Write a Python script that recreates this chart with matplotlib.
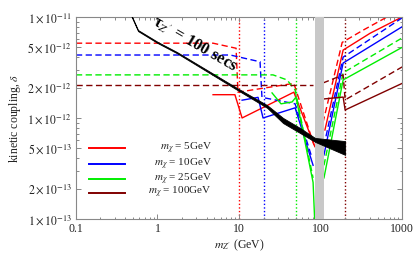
import numpy as np
import matplotlib
matplotlib.use("Agg")
import matplotlib.pyplot as plt
from matplotlib.ticker import FixedLocator, NullFormatter

plt.rcParams.update({
    "font.family": "Liberation Serif",
    "mathtext.fontset": "stix",
    "font.size": 8,
})

# ---- data ----
# m_chi = 5 GeV (red)
red_dash_l_x = [0.1, 4.8, 9.2, 9.7, 47, 83]
red_dash_l_y = [5.5e-12, 5.5e-12, 4.9e-12, 1.8e-12, 2.2e-12, 5.4e-13]
red_dash_r_x = [107, 184, 332, 654, 1000]
red_dash_r_y = [9.0e-13, 5.6e-12, 7.4e-12, 1.0e-11, 1.2e-11]
red_sol_l_x = [4.8, 8.9, 10.9, 47, 85]
red_sol_l_y = [1.7e-12, 1.7e-12, 1.0e-12, 1.8e-12, 5.2e-13]
red_sol_r_x = [113, 189, 405, 1000]
red_sol_r_y = [7.6e-13, 4.7e-12, 6.9e-12, 1.0e-11]

# m_chi = 10 GeV (blue)
blue_dash_l_x = [0.1, 7.8, 18.1, 19.1, 48.7, 78.7]
blue_dash_l_y = [4.2e-12, 4.2e-12, 3.6e-12, 1.6e-12, 1.38e-12, 4.0e-13]
blue_dash_r_x = [110, 189, 1000]
blue_dash_r_y = [5.3e-13, 4.0e-12, 9.8e-12]
blue_sol_l_x = [10.9, 17.1, 19.7, 48.7, 80.9]
blue_sol_l_y = [1.5e-12, 1.6e-12, 1.0e-12, 1.26e-12, 3.4e-13]
blue_sol_r_x = [110, 189, 1000]
blue_sol_r_y = [4.3e-13, 3.5e-12, 8.0e-12]

# m_chi = 25 GeV (green)
green_dash_l_x = [0.1, 26.1, 38.8, 48.7, 80.9]
green_dash_l_y = [2.67e-12, 2.67e-12, 2.38e-12, 1.89e-12, 2.55e-13]
green_dash_r_x = [110, 189, 1000]
green_dash_r_y = [3.4e-13, 2.8e-12, 6.2e-12]
green_sol_l_x = [25.4, 32.7, 44.7, 50, 80.9, 85.6]
green_sol_l_y = [1.77e-12, 1.38e-12, 1.44e-12, 1.61e-12, 2.3e-13, 7.8e-14]
green_sol_r_x = [110, 189, 1000]
green_sol_r_y = [2.55e-13, 2.38e-12, 5.0e-12]

# m_chi = 100 GeV (dark red)
dred_dash_l_x = [0.1, 80.9]
dred_dash_l_y = [2.12e-12, 2.12e-12]
dred_dash_r_x = [107, 189, 200, 1000]
dred_dash_r_y = [2.22e-12, 2.67e-12, 1.51e-12, 3.2e-12]
dred_sol_r_x = [107, 189, 200, 1000]
dred_sol_r_y = [1.54e-12, 1.61e-12, 1.2e-12, 2.2e-12]

# tau_Z' = 100 s band
tau_x = [0.46, 0.577, 1.01, 1.73, 9.45, 22.1, 34.7, 56, 85.6, 200]
tau_hi = [1.12e-11, 7.43e-12, 5.65e-12, 4.5e-12, 1.98e-12, 1.34e-12, 1.0e-12, 7.96e-13, 6.34e-13, 5.9e-13]
tau_lo = [1.09e-11, 7.25e-12, 5.5e-12, 4.38e-12, 1.9e-12, 1.26e-12, 8.9e-13, 7.1e-13, 5.8e-13, 4.31e-13]

two_mchi = [10, 20, 50, 200]
zband = (86, 110)

colors = ["#ff0000", "#0000ff", "#00ee00", "#800000"]
labels = [r"$m_\chi$ = 5GeV", r"$m_\chi$ = 10GeV", r"$m_\chi$ = 25GeV", r"$m_\chi$ = 100GeV"]

fig = plt.figure(figsize=(4.15, 2.57), dpi=100)
ax = fig.add_axes([0.183, 0.148, 0.786, 0.786])
ax.set_xscale("log")
ax.set_yscale("log")
ax.set_xlim(0.1, 1000)
ax.set_ylim(1e-13, 1e-11)

dash = dict(lw=1.0, dashes=(4.5, 2.5))
sol = dict(lw=1.0)

# vertical 2 m_chi lines
for xv, c in zip(two_mchi, colors):
    ax.axvline(xv, color=c, lw=1.0, ls=(0, (1, 1.6)), zorder=1)

series = [
    (red_dash_l_x, red_dash_l_y, red_dash_r_x, red_dash_r_y,
     red_sol_l_x, red_sol_l_y, red_sol_r_x, red_sol_r_y),
    (blue_dash_l_x, blue_dash_l_y, blue_dash_r_x, blue_dash_r_y,
     blue_sol_l_x, blue_sol_l_y, blue_sol_r_x, blue_sol_r_y),
    (green_dash_l_x, green_dash_l_y, green_dash_r_x, green_dash_r_y,
     green_sol_l_x, green_sol_l_y, green_sol_r_x, green_sol_r_y),
]
for c, s in zip(colors, series):
    dlx, dly, drx, dry, slx, sly, srx, sry = s
    ax.plot(dlx, dly, color=c, zorder=2, **dash)
    ax.plot(drx, dry, color=c, zorder=2, **dash)
    ax.plot(slx, sly, color=c, zorder=2, **sol)
    ax.plot(srx, sry, color=c, zorder=2, **sol)

ax.plot(dred_dash_l_x, dred_dash_l_y, color=colors[3], zorder=2, **dash)
ax.plot(dred_dash_r_x, dred_dash_r_y, color=colors[3], zorder=2, **dash)
ax.plot(dred_sol_r_x, dred_sol_r_y, color=colors[3], zorder=2, **sol)

# Z pole band
ax.axvspan(*zband, color="#c8c8c8", lw=0, zorder=3)

# lifetime band
ax.fill_between(tau_x, tau_lo, tau_hi, color="black", lw=0.6, edgecolor="black", zorder=4)
ax.text(2.85, 5.3e-12, "τ$_{Z'}$ = 100 secs", rotation=-30, ha="center", va="center",
        fontsize=12, fontweight="bold", zorder=5)

# legend drawn Mathematica-style
leg_y = [0.351, 0.272, 0.198, 0.129]
for c, lab, yy in zip(colors, labels, leg_y):
    ax.plot([0.040, 0.150], [yy, yy], color=c, lw=1.4, transform=ax.transAxes, zorder=6)
    ax.text(0.417, yy, lab, ha="right", va="center", fontsize=8,
            transform=ax.transAxes, color="#222222", zorder=6)

# ticks
frame = "#888888"
for sp in ax.spines.values():
    sp.set_color(frame)
    sp.set_linewidth(0.8)

ax.xaxis.set_major_locator(FixedLocator([0.1, 1, 10, 100, 1000]))
ax.set_xticklabels(["0.1", "1", "10", "100", "1000"])
xminor = [m * 10.0 ** e for e in range(-1, 3) for m in range(2, 10)]
ax.xaxis.set_minor_locator(FixedLocator(xminor))
ax.xaxis.set_minor_formatter(NullFormatter())

ymaj = [1e-13, 2e-13, 5e-13, 1e-12, 2e-12, 5e-12, 1e-11]
ax.yaxis.set_major_locator(FixedLocator(ymaj))
ax.set_yticklabels([r"$1\times10^{-13}$", r"$2\times10^{-13}$", r"$5\times10^{-13}$",
                    r"$1\times10^{-12}$", r"$2\times10^{-12}$", r"$5\times10^{-12}$",
                    r"$1\times10^{-11}$"])
yminor = [m * 10.0 ** e for e in (-13, -12) for m in (3, 4, 6, 7, 8, 9)]
ax.yaxis.set_minor_locator(FixedLocator(yminor))
ax.yaxis.set_minor_formatter(NullFormatter())

ax.tick_params(which="both", direction="in", top=True, right=True, color=frame,
               labelcolor="#222222", labelsize=8.5, width=0.7)
ax.tick_params(which="major", length=3.5, pad=3)
ax.tick_params(which="minor", length=1.8)

ax.set_xlabel(r"$m_{Z'}$ (GeV)", fontsize=8.5, color="#222222", labelpad=2)
ax.set_ylabel(r"kinetic coupling, $\delta$", fontsize=8.5, color="#222222", labelpad=3)

fig.savefig("out.png", dpi=100)
